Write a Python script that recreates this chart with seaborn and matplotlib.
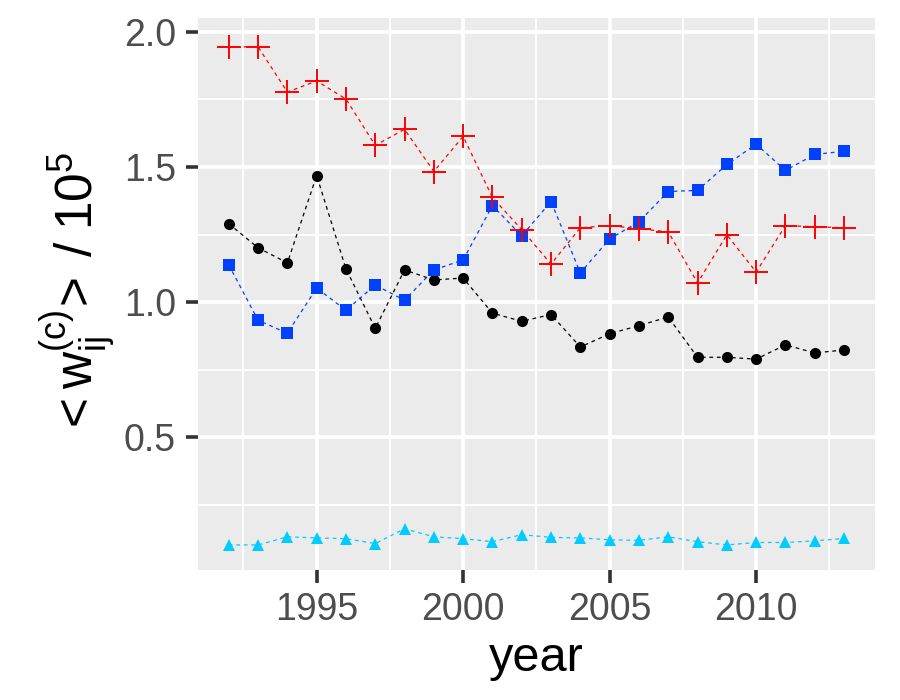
import matplotlib
matplotlib.use("Agg")
import matplotlib.pyplot as plt
import seaborn as sns
import pandas as pd
import numpy as np

years = list(range(1992, 2014))
red_plus = [1.944, 1.944, 1.777, 1.818, 1.751, 1.580, 1.639, 1.483, 1.613, 1.387,
            1.268, 1.141, 1.275, 1.283, 1.271, 1.260, 1.071, 1.249, 1.111, 1.283,
            1.279, 1.275]
blue_sq = [1.138, 0.933, 0.885, 1.052, 0.970, 1.063, 1.007, 1.119, 1.156, 1.357,
           1.245, 1.372, 1.108, 1.234, 1.297, 1.409, 1.413, 1.509, 1.584, 1.487,
           1.546, 1.558]
black_circ = [1.290, 1.201, 1.145, 1.468, 1.123, 0.903, 1.119, 1.082, 1.089, 0.959,
              0.929, 0.954, 0.834, 0.883, 0.913, 0.945, 0.796, 0.796, 0.789, 0.842,
              0.812, 0.823]
cyan_tri = [0.102, 0.102, 0.132, 0.128, 0.125, 0.107, 0.162, 0.132, 0.125, 0.114,
            0.140, 0.130, 0.128, 0.121, 0.119, 0.132, 0.114, 0.102, 0.111, 0.111,
            0.117, 0.126]

x_ticks = [1995, 2000, 2005, 2010]
y_ticks = [0.5, 1.0, 1.5, 2.0]
y_ticklabels = ["0.5", "1.0", "1.5", "2.0"]

series = {
    "black": (black_circ, "#000000", "o", 8, 1.0),
    "cyan": (cyan_tri, "#00CCFF", "^", 9, 1.0),
    "blue": (blue_sq, "#0040FF", "s", 8, 1.0),
    "red": (red_plus, "#FF0000", "+", 17, 1.4),
}

df = pd.concat([pd.DataFrame({"year": years, "value": v[0], "series": k})
                for k, v in series.items()], ignore_index=True)

sns.set_theme(style="darkgrid")
plt.rcParams["font.family"] = ["Liberation Sans", "DejaVu Sans"]
plt.rcParams["mathtext.fontset"] = "custom"
plt.rcParams["mathtext.rm"] = "Liberation Sans"
plt.rcParams["mathtext.it"] = "Liberation Sans"

fig = plt.figure(figsize=(9, 7), dpi=100)
ax = fig.add_axes([0.22, 0.186, 0.752, 0.788])
ax.set_facecolor("#EBEBEB")

for name, (vals, col, mk, ms, mew) in series.items():
    sub = df[df["series"] == name]
    sns.lineplot(data=sub, x="year", y="value", ax=ax, color=col, lw=0.9,
                 linestyle=(0, (3, 3)), marker=mk, markersize=ms,
                 markeredgewidth=mew if mk == "+" else 0,
                 markerfacecolor=col, markeredgecolor=col, legend=False,
                 estimator=None, sort=False)

xr = (1992, 2013)
ax.set_xlim(xr[0] - 0.05 * 21, xr[1] + 0.05 * 21)
ax.set_ylim(0.010, 2.050)

ax.set_xticks(x_ticks)
ax.set_xticks([1992.5, 1997.5, 2002.5, 2007.5, 2012.5], minor=True)
ax.set_yticks(y_ticks)
ax.set_yticks([0.25, 0.75, 1.25, 1.75], minor=True)
ax.set_yticklabels(y_ticklabels)
ax.grid(which="major", color="white", lw=2.6)
ax.grid(which="minor", color="white", lw=1.3)
ax.set_axisbelow(True)
for s in ax.spines.values():
    s.set_visible(False)

ax.tick_params(axis="both", which="major", length=9, width=2.6, color="#333333",
               labelsize=27, labelcolor="#4D4D4D", pad=7, bottom=True, left=True)
ax.tick_params(axis="both", which="minor", length=0)

ax.set_xlabel("year", fontsize=35, color="black", labelpad=6)
ax.set_ylabel(r"$\mathrm{<w_{ij}^{(c)}\!>}\;/\;10^{5}$", fontsize=37, color="black",
              labelpad=4)

fig.savefig("out.png", dpi=100)
